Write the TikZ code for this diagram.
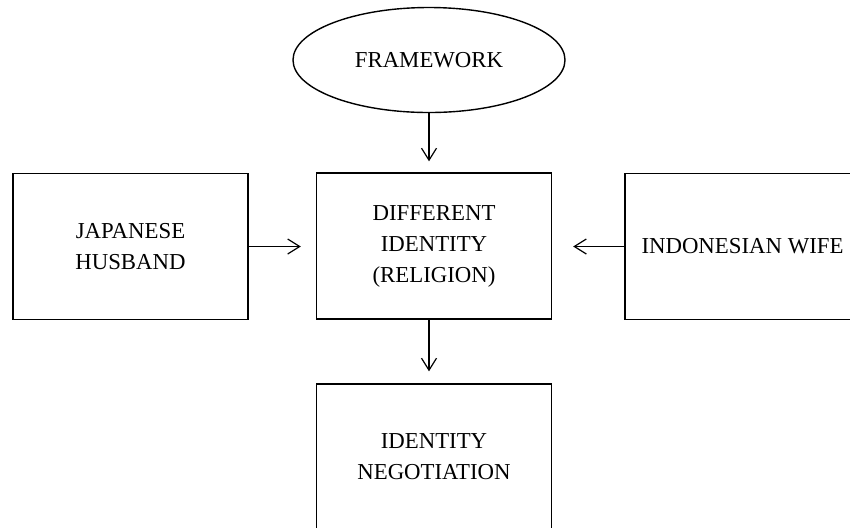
\documentclass[tikz,border=0pt]{standalone}
\usepackage{fontspec}
\setmainfont{Liberation Serif}
\usetikzlibrary{arrows.meta,shapes.geometric}
\tikzset{
  bx/.style={draw, line width=0.7pt, align=center, font=\fontsize{11.4}{15.5}\selectfont, inner sep=2pt},
  box/.style={bx, rectangle, minimum width=117.5pt, minimum height=73pt},
  oval/.style={bx, ellipse, minimum width=136pt, minimum height=52.5pt},
  arr/.style={-{Straight Barb[length=6pt,width=7.5pt]}, line width=0.6pt},
}

\begin{document}
\begin{tikzpicture}[x=0.5pt,y=-0.5pt]
    \useasboundingbox (0,0) rectangle (850,527);
    \node[oval] (fw) at (429,60) {FRAMEWORK};
    \node[box] (diff) at (434,246) {DIFFERENT\\IDENTITY\\(RELIGION)};
    \node[box] (husb) at (130.5,246.5) {JAPANESE\\HUSBAND};
    \node[box] (wife) at (742.5,246.5) {INDONESIAN WIFE};
    \node[box] (nego) at (434,457) {IDENTITY\\NEGOTIATION};
    \draw[arr, shorten >=5.5pt] (fw.south) -- (fw.south |- diff.north);
    \draw[arr, shorten >=7.5pt] (husb.east) -- (husb.east -| diff.west);
    \draw[arr, shorten >=10.5pt] (wife.west) -- (wife.west -| diff.east);
    \draw[arr, shorten >=6pt] (diff.south -| fw.south) -- (fw.south |- nego.north);
  \end{tikzpicture}
\end{document}
